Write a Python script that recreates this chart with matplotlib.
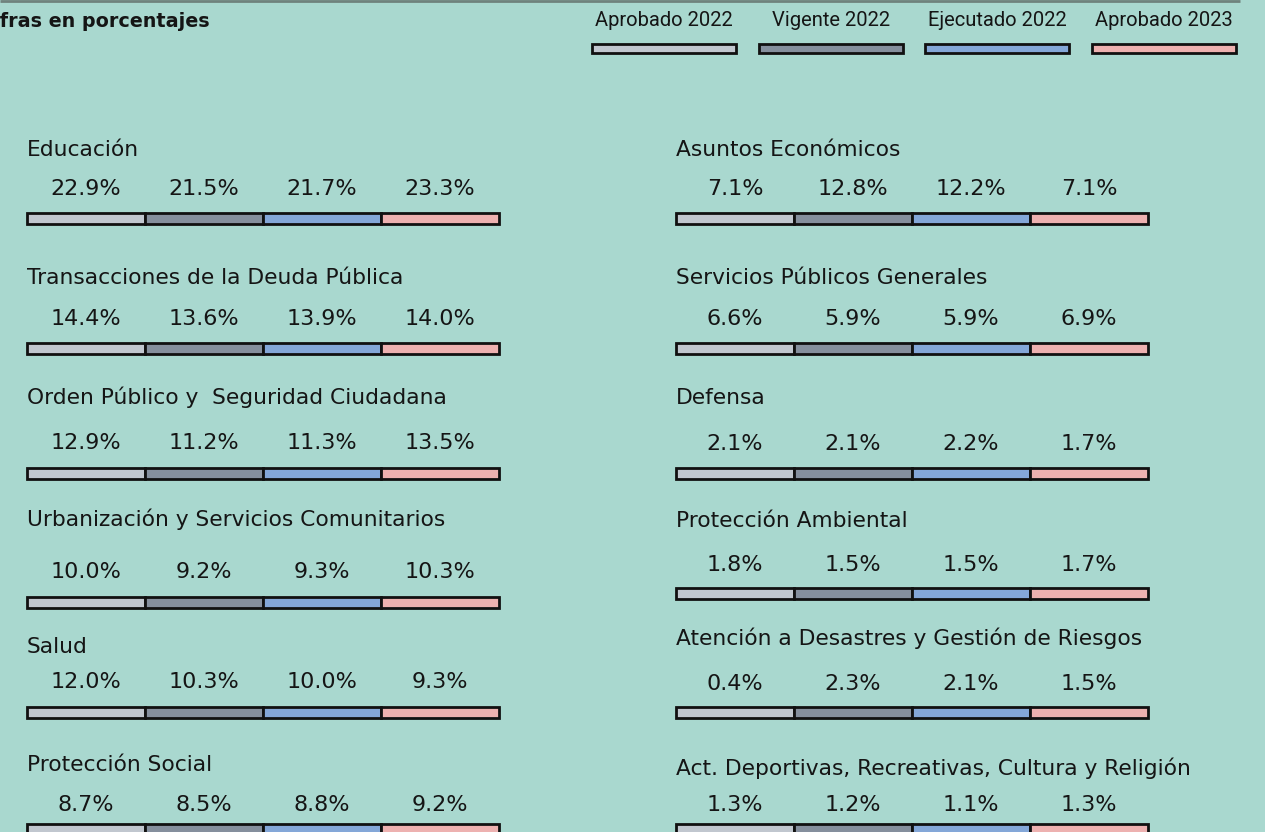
import matplotlib
matplotlib.use("Agg")
import matplotlib.pyplot as plt

# ---- data -------------------------------------------------------------
series = ["Aprobado 2022", "Vigente 2022", "Ejecutado 2022", "Aprobado 2023"]

categories_left = [
    "Educación",
    "Transacciones de la Deuda Pública",
    "Orden Público y  Seguridad Ciudadana",
    "Urbanización y Servicios Comunitarios",
    "Salud",
    "Protección Social",
]
categories_right = [
    "Asuntos Económicos",
    "Servicios Públicos Generales",
    "Defensa",
    "Protección Ambiental",
    "Atención a Desastres y Gestión de Riesgos",
    "Act. Deportivas, Recreativas, Cultura y Religión",
]

aprobado_2022_left = [22.9, 14.4, 12.9, 10.0, 12.0, 8.7]
vigente_2022_left = [21.5, 13.6, 11.2, 9.2, 10.3, 8.5]
ejecutado_2022_left = [21.7, 13.9, 11.3, 9.3, 10.0, 8.8]
aprobado_2023_left = [23.3, 14.0, 13.5, 10.3, 9.3, 9.2]

aprobado_2022_right = [7.1, 6.6, 2.1, 1.8, 0.4, 1.3]
vigente_2022_right = [12.8, 5.9, 2.1, 1.5, 2.3, 1.2]
ejecutado_2022_right = [12.2, 5.9, 2.2, 1.5, 2.1, 1.1]
aprobado_2023_right = [7.1, 6.9, 1.7, 1.7, 1.5, 1.3]

# ---- styling ----------------------------------------------------------
BG = "#A9D8CF"
COLORS = ["#C1C7CF", "#858F9D", "#84A7D8", "#EDB1B0"]
EDGE = "#111111"
TXT = "#151515"
TITLE_FONT = ["DejaVu Sans"]
VALUE_FONT = ["DejaVu Sans"]
LEGEND_FONT = ["DejaVu Sans Condensed", "Liberation Sans Narrow", "Roboto", "DejaVu Sans"]

W, H = 1265, 832
fig = plt.figure(figsize=(W / 100, H / 100), dpi=100, facecolor=BG)
ax = fig.add_axes([0, 0, 1, 1])
ax.set_xlim(0, W)
ax.set_ylim(H, 0)
ax.axis("off")
ax.set_facecolor(BG)

# thin rule along the top edge
ax.plot([0, 1240], [0.8, 0.8], color="#6F827D", lw=2, solid_capstyle="butt")

# header: starts slightly left of the canvas edge, as in the page layout
renderer = fig.canvas.get_renderer()
probe = ax.text(0, 0, "Ci", fontsize=13.8, fontweight="bold", family=TITLE_FONT)
shift = probe.get_window_extent(renderer).width
probe.remove()
ax.text(-shift, 27, "Cifras en porcentajes", fontsize=13.8, fontweight="bold",
        family=TITLE_FONT, color=TXT, va="baseline", ha="left")

# legend
leg_x = [592, 759, 925, 1092]
leg_w = 144
for name, x0, c in zip(series, leg_x, COLORS):
    ax.text(x0 + leg_w / 2, 26, name, fontsize=14.5, family=LEGEND_FONT,
            color=TXT, ha="center", va="baseline")
    ax.barh(48, leg_w, left=x0, height=9, color=c, edgecolor=EDGE, lw=2)

# panel geometry (pixel coordinates)
seg_w = 118
panels = [
    dict(x0=27, cats=categories_left,
         vals=[aprobado_2022_left, vigente_2022_left, ejecutado_2022_left, aprobado_2023_left],
         title_y=[156, 284, 404, 526, 653, 771],
         value_y=[195, 325, 449, 578, 688, 811],
         bar_y=[218, 348, 473, 602, 712, 834],
         bar_h=[11, 11, 11, 11, 11, 20]),
    dict(x0=676, cats=categories_right,
         vals=[aprobado_2022_right, vigente_2022_right, ejecutado_2022_right, aprobado_2023_right],
         title_y=[156, 284, 404, 527, 645, 775],
         value_y=[195, 325, 450, 571, 690, 811],
         bar_y=[218, 348, 473, 593, 712, 834],
         bar_h=[11, 11, 11, 11, 11, 20]),
]

for p in panels:
    for r, cat in enumerate(p["cats"]):
        ax.text(p["x0"], p["title_y"][r], cat, fontsize=15.7, family=TITLE_FONT,
                color=TXT, ha="left", va="baseline")
        for s in range(4):
            left = p["x0"] + s * seg_w
            ax.barh(p["bar_y"][r], seg_w, left=left, height=p["bar_h"][r],
                    color=COLORS[s], edgecolor=EDGE, lw=2)
            ax.text(left + seg_w / 2, p["value_y"][r], f"{p['vals'][s][r]:.1f}%",
                    fontsize=16, family=VALUE_FONT, color=TXT,
                    ha="center", va="baseline")

fig.savefig("out.png", dpi=100, facecolor=BG)
